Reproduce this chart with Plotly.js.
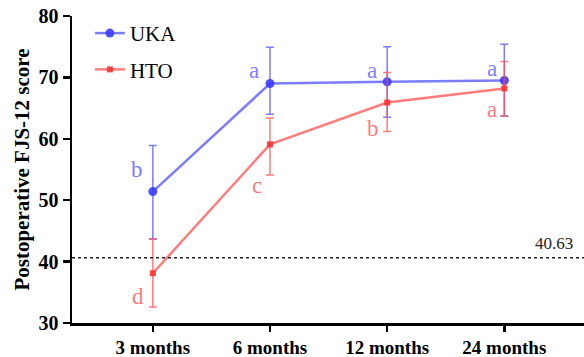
<!DOCTYPE html>
<html><head><meta charset="utf-8">
<script src="https://cdn.plot.ly/plotly-3.0.1.min.js"></script>
<style>html,body{margin:0;padding:0;background:#fff}#c{width:584px;height:357px}</style>
</head><body><div id="c"></div>
<script>
const categories = ["3 months", "6 months", "12 months", "24 months"];
const ukaMean = [51.4, 69.0, 69.3, 69.5];
const ukaPlus = [7.5, 5.9, 5.7, 5.9];
const ukaMinus = [7.7, 5.0, 5.8, 5.8];
const htoMean = [38.1, 59.1, 65.9, 68.2];
const htoPlus = [5.6, 4.3, 4.9, 4.4];
const htoMinus = [5.5, 5.0, 4.7, 4.5];
const ukaLetters = ["b", "a", "a", "a"];
const htoLetters = ["d", "c", "b", "a"];
const threshold = [40.63];

const blue = "rgba(80,80,255,0.75)";
const red = "rgba(255,80,80,0.75)";
const serif = "Liberation Serif";

const traces = [
  {x: categories, y: ukaMean, name: "UKA", type: "scatter", mode: "lines+markers",
   legendgroup: "u",
   line: {color: blue, width: 2.5}, marker: {color: "rgba(60,60,255,0.9)", size: 9, symbol: "circle"},
   error_y: {type: "data", symmetric: false, array: ukaPlus, arrayminus: ukaMinus, color: blue, thickness: 1.5, width: 4}},
  {x: categories, y: htoMean, name: "HTO", type: "scatter", mode: "lines+markers",
   legendgroup: "h",
   line: {color: red, width: 2.5}, marker: {color: "rgba(255,50,50,0.9)", size: 6, symbol: "square"},
   error_y: {type: "data", symmetric: false, array: htoPlus, arrayminus: htoMinus, color: red, thickness: 1.5, width: 4}}
];

const annotations = [];
const ukaShiftY = [22, 13, 11, 12];
const ukaShiftX = [-16, -16, -15, -12];
ukaLetters.forEach((t, i) => {
  annotations.push({x: i, y: ukaMean[i], xref: "x", yref: "y", text: t, showarrow: false,
    xshift: ukaShiftX[i], yshift: ukaShiftY[i], font: {family: serif, size: 23, color: "rgba(100,100,255,0.85)"}});
});
const htoShiftY = [-23, -41, -26, -21];
const htoShiftX = [-15, -13, -14, -12];
htoLetters.forEach((t, i) => {
  annotations.push({x: i, y: htoMean[i], xref: "x", yref: "y", text: t, showarrow: false,
    xshift: htoShiftX[i], yshift: htoShiftY[i], font: {family: serif, size: 23, color: "rgba(255,100,100,0.85)"}});
});
annotations.push({x: 1, xref: "paper", xanchor: "right", y: threshold[0], yref: "y", yanchor: "bottom",
  text: threshold[0].toFixed(2), showarrow: false, xshift: -9, yshift: 3,
  font: {family: serif, size: 17, color: "#222"}});

const layout = {
  width: 584, height: 357,
  margin: {l: 72, r: 0, t: 16, b: 34, pad: 0},
  paper_bgcolor: "#fff", plot_bgcolor: "#fff",
  font: {family: serif},
  showlegend: true,
  legend: {x: 0.035, y: 1.01, xanchor: "left", yanchor: "top", traceorder: "grouped", tracegroupgap: 6,
    font: {family: serif, size: 21, color: "#000"}, bgcolor: "rgba(0,0,0,0)", itemwidth: 30},
  xaxis: {type: "category", range: [-0.69, 3.68], showgrid: false, zeroline: false,
    showline: true, linecolor: "#000", linewidth: 2.5, ticks: "outside", ticklen: 6, tickwidth: 2.5, tickcolor: "#000",
    tickfont: {family: serif, size: 19, color: "#000", weight: "bold"}},
  yaxis: {range: [30, 80], tickvals: [30, 40, 50, 60, 70, 80], showgrid: false, zeroline: false,
    showline: true, linecolor: "#000", linewidth: 2.5, ticks: "outside", ticklen: 7, tickwidth: 2.5, tickcolor: "#000",
    tickfont: {family: serif, size: 20, color: "#000", weight: "bold"},
    title: {text: "Postoperative FJS-12 score", font: {family: serif, size: 21, color: "#000", weight: "bold"}, standoff: 3}},
  shapes: [{type: "line", xref: "paper", x0: 0, x1: 1, yref: "y", y0: threshold[0], y1: threshold[0],
    line: {color: "#222", width: 1.3, dash: "3px,3px"}}],
  annotations: annotations
};
Plotly.newPlot("c", traces, layout, {displayModeBar: false, staticPlot: true});
</script></body></html>
